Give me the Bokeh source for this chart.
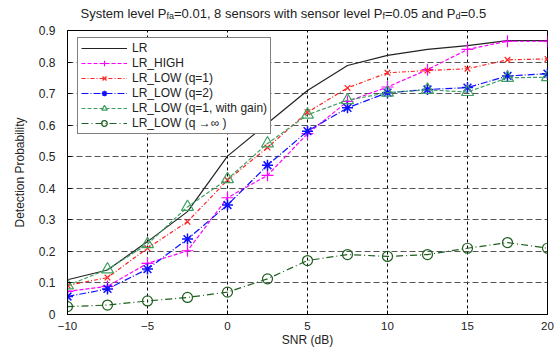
from bokeh.plotting import figure
from bokeh.layouts import column
from bokeh.models import FixedTicker, Label, Range1d, Legend, LegendItem
from bokeh.embed import file_html
from bokeh.resources import INLINE

snr = [-10, -7.5, -5, -2.5, 0, 2.5, 5, 7.5, 10, 12.5, 15, 17.5, 20]
lr = [0.110, 0.141, 0.231, 0.326, 0.502, 0.606, 0.710, 0.789, 0.821, 0.840, 0.852, 0.868, 0.868]
lr_high = [0.073, 0.089, 0.162, 0.202, 0.370, 0.441, 0.573, 0.675, 0.721, 0.776, 0.840, 0.866, 0.866]
lr_low_q1 = [0.092, 0.117, 0.210, 0.294, 0.426, 0.529, 0.641, 0.718, 0.766, 0.773, 0.779, 0.807, 0.810]
lr_low_q2 = [0.057, 0.081, 0.144, 0.239, 0.347, 0.473, 0.581, 0.655, 0.703, 0.713, 0.719, 0.756, 0.763]
lr_low_gain = [0.092, 0.143, 0.223, 0.341, 0.429, 0.542, 0.633, 0.679, 0.703, 0.712, 0.705, 0.750, 0.752]
lr_low_inf = [0.025, 0.030, 0.043, 0.054, 0.071, 0.113, 0.171, 0.190, 0.184, 0.190, 0.210, 0.228, 0.210]

x_ticks = [-10, -5, 0, 5, 10, 15, 20]
y_ticks = [0, 0.1, 0.2, 0.3, 0.4, 0.5, 0.6, 0.7, 0.8, 0.9]
y_tick_labels = ["0", "0.1", "0.2", "0.3", "0.4", "0.5", "0.6", "0.7", "0.8", "0.9"]

title_parts = ["System level P", "fa", "=0.01, 8 sensors with sensor level P", "f",
               "=0.05 and P", "d", "=0.5"]

FONT = "Liberation Sans"
W = 556
LEFT = 67
RIGHT = 9
TITLE_H = 22
MAIN_H = 327
TOP = 8
BOTTOM = 34
FRAME_H = MAIN_H - TOP - BOTTOM

# ---- title strip: its frame spans the same pixels as the main frame ----
pt = figure(width=W, height=TITLE_H, output_backend="svg", toolbar_location=None,
            x_range=Range1d(LEFT, W - RIGHT), y_range=Range1d(0, TITLE_H),
            x_axis_type=None, y_axis_type=None,
            min_border_left=LEFT, min_border_right=RIGHT, min_border_top=0, min_border_bottom=0)
pt.outline_line_color = None
pt.grid.visible = False
pt.background_fill_color = "white"
pt.border_fill_color = "white"

widths = [86.0, 7.5, 208.5, 2.5, 70.5, 5.0, 25.7]
sizes = [13, 9, 13, 9, 13, 9, 13]
shift = [0, -2.5, 0, -2.5, 0, -2.5, 0]
x = 80.0
for txt, w, fs, dy in zip(title_parts, widths, sizes, shift):
    pt.add_layout(Label(x=x, y=9 + dy, text=txt, text_font=FONT,
                        text_font_size=f"{fs}px", text_color="#222222",
                        text_baseline="alphabetic", text_align="left"))
    x += w

# ---- main plot ----
p = figure(width=W, height=MAIN_H, output_backend="svg", toolbar_location=None,
           x_range=Range1d(-10, 20), y_range=Range1d(0, 0.9),
           min_border_left=LEFT, min_border_right=RIGHT, min_border_top=TOP, min_border_bottom=BOTTOM)
p.background_fill_color = "white"
p.border_fill_color = "white"
p.outline_line_color = "black"
p.outline_line_width = 1

p.xaxis.ticker = FixedTicker(ticks=x_ticks)
p.yaxis.ticker = FixedTicker(ticks=y_ticks)
p.yaxis.major_label_overrides = {t: s for t, s in zip(y_ticks, y_tick_labels)}
for ax in (p.xaxis[0], p.yaxis[0]):
    ax.axis_line_color = "black"
    ax.major_tick_line_color = "black"
    ax.major_tick_in = 4
    ax.major_tick_out = 0
    ax.minor_tick_line_color = None
    ax.major_label_text_font = FONT
    ax.major_label_text_font_size = "12px"
    ax.major_label_text_color = "#222222"
    ax.axis_label_text_font = FONT
    ax.axis_label_text_font_size = "12px"
    ax.axis_label_text_font_style = "normal"
    ax.axis_label_text_color = "#222222"
p.xaxis.major_label_text_font_size = "11.5px"
p.xaxis.axis_label = "SNR (dB)"
p.yaxis.axis_label = "Detection Probability"
p.xaxis.major_label_standoff = 7
p.xaxis.axis_label_standoff = 0
p.yaxis.major_label_standoff = 12
p.yaxis.axis_label_standoff = 9

p.xgrid.grid_line_color = "black"
p.xgrid.grid_line_dash = "3 3"
p.xgrid.grid_line_width = 1
p.ygrid.grid_line_color = "#555555"
p.ygrid.grid_line_dash = "6 3"
p.ygrid.grid_line_width = 1

r_lr = p.line(snr, lr, line_color="#222222", line_width=1.2)

l_high = p.line(snr, lr_high, line_color="#ff00ff", line_width=1.2, line_dash="4 2")
m_high = p.scatter(snr, lr_high, marker="cross", size=12, line_color="#ff00ff", line_width=1.2)

l_q1 = p.line(snr, lr_low_q1, line_color="#ff2020", line_width=1.2, line_dash="4 2 1 2")
m_q1 = p.scatter(snr, lr_low_q1, marker="x", size=8, line_color="#ff2020", line_width=1.2)

l_q2 = p.line(snr, lr_low_q2, line_color="#1010ff", line_width=1.2, line_dash="7 2 1 2")
m_q2 = p.scatter(snr, lr_low_q2, marker="asterisk", size=11, line_color="#1010ff", line_width=1.5)

l_gain = p.line(snr, lr_low_gain, line_color="#3ea060", line_width=1.2, line_dash="4 2")
m_gain = p.scatter(snr, lr_low_gain, marker="triangle", size=12, line_color="#3ea060",
                   fill_alpha=0, line_width=1.2)

l_inf = p.line(snr, lr_low_inf, line_color="#1f5f1f", line_width=1.2, line_dash="7 3 1 3")
m_inf = p.scatter(snr, lr_low_inf, marker="circle", size=10, line_color="#1f5f1f",
                  fill_alpha=0, line_width=1.2)

legend = Legend(items=[
    LegendItem(label="LR", renderers=[r_lr]),
    LegendItem(label="LR_HIGH", renderers=[l_high, m_high]),
    LegendItem(label="LR_LOW (q=1)", renderers=[l_q1, m_q1]),
    LegendItem(label="LR_LOW (q=2)", renderers=[l_q2, m_q2]),
    LegendItem(label="LR_LOW (q=1, with gain)", renderers=[l_gain, m_gain]),
    LegendItem(label="LR_LOW (q \u2192\u221e )", renderers=[l_inf, m_inf]),
], location=(10, FRAME_H - 4 - 101))
legend.border_line_color = "black"
legend.border_line_width = 1
legend.background_fill_color = "white"
legend.background_fill_alpha = 1
legend.label_text_font = FONT
legend.label_text_font_size = "12px"
legend.label_text_color = "#222222"
legend.glyph_width = 46
legend.glyph_height = 14
legend.label_height = 14
legend.label_standoff = 5
legend.spacing = 1
legend.padding = 3
legend.margin = 0
p.add_layout(legend, "center")

layout = column(pt, p, spacing=0)
open("out.html", "w").write(file_html(layout, INLINE))
